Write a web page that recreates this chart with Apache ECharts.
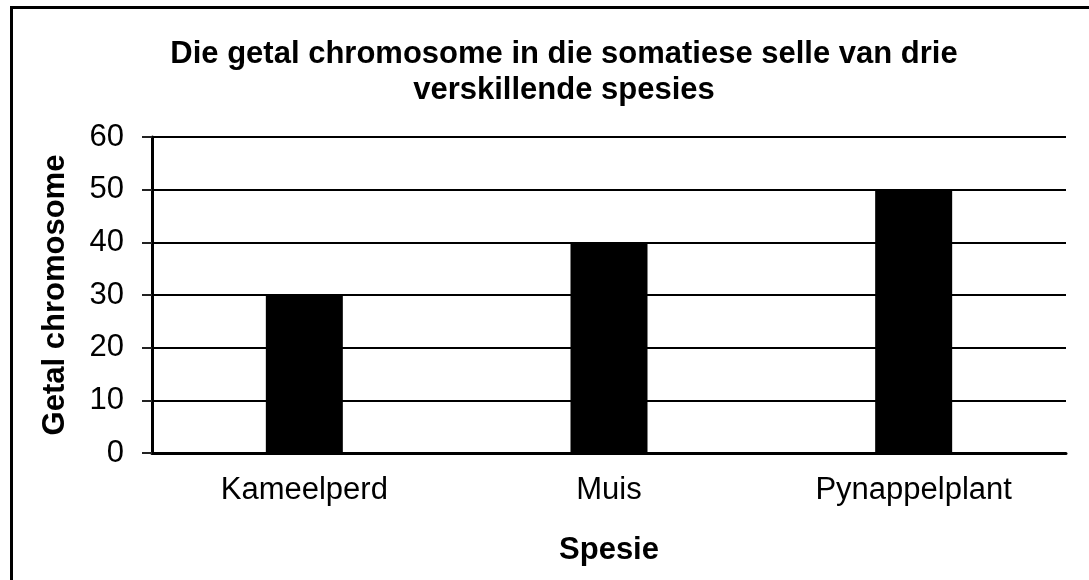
<!DOCTYPE html>
<html>
<head>
<meta charset="utf-8">
<script src="https://cdn.jsdelivr.net/npm/echarts@6/dist/echarts.min.js"></script>
<style>
  html, body { margin: 0; padding: 0; background: #fff; }
  #chart { width: 1089px; height: 580px; }
</style>
</head>
<body>
<div id="chart"></div>
<script>
// data
const species = ['Kameelperd', 'Muis', 'Pynappelplant']
const chromosomes = [30, 40, 50]
const titleLines = ['Die getal chromosome in die somatiese selle van drie', 'verskillende spesies']

const font = 'Liberation Sans, Arial, sans-serif'
let myChart = echarts.init(document.getElementById('chart'))

myChart.setOption({
  animation: false,
  backgroundColor: '#fff',
  // frame round the chart (only left and top edges are in view)
  graphic: [{
    type: 'rect',
    shape: { x: 11.5, y: 7.5, width: 1200, height: 1000 },
    style: { fill: 'none', stroke: '#000', lineWidth: 3 },
    z: 100
  }],
  title: {
    text: titleLines.join('\n'),
    left: 559,
    top: 31,
    textAlign: 'center',
    textStyle: { fontFamily: font, fontSize: 31, fontWeight: 'bold', color: '#000', lineHeight: 36 }
  },
  grid: { left: 152, right: 23, top: 137, bottom: 127 },
  xAxis: {
    type: 'category',
    data: species,
    name: 'Spesie',
    nameLocation: 'middle',
    nameGap: 82,
    nameTextStyle: { fontFamily: font, fontSize: 31, fontWeight: 'bold', color: '#000' },
    axisLine: { lineStyle: { color: '#000', width: 3 } },
    axisTick: { show: false },
    axisLabel: { fontFamily: font, fontSize: 31, color: '#000', margin: 22 }
  },
  yAxis: {
    type: 'value',
    min: 0,
    max: 60,
    interval: 10,
    name: 'Getal chromosome',
    nameLocation: 'middle',
    nameGap: 81,
    nameRotate: 90,
    nameTextStyle: { fontFamily: font, fontSize: 31, fontWeight: 'bold', color: '#000' },
    axisLine: { show: true, lineStyle: { color: '#000', width: 3 } },
    axisTick: { show: true, length: 10, lineStyle: { color: '#222', width: 2 } },
    axisLabel: { fontFamily: font, fontSize: 31, color: '#000', margin: 28 },
    splitLine: { lineStyle: { color: '#000', width: 2 } }
  },
  series: [{
    type: 'bar',
    data: chromosomes,
    barWidth: 77,
    itemStyle: { color: '#000' }
  }]
})
</script>
</body>
</html>
